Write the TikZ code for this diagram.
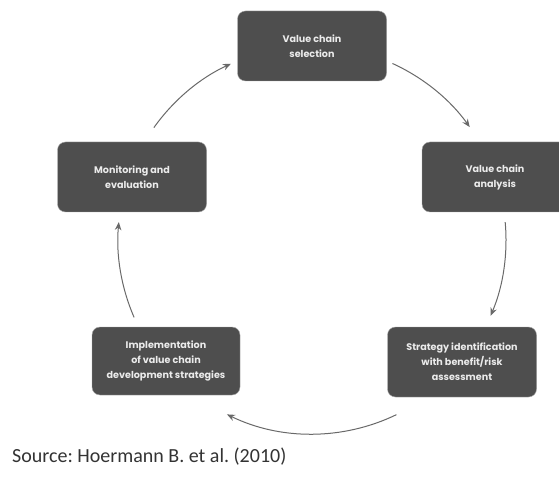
\documentclass[tikz,border=0pt]{standalone}
\usepackage{fontspec}
\setmainfont{Carlito}
\newfontfamily\stagefont{Poppins}
\usetikzlibrary{arrows.meta}
\usetikzlibrary{calc}
\definecolor{boxgray}{RGB}{78,78,78}
\definecolor{arrowgray}{RGB}{105,105,105}
\tikzset{
  stage/.style   = { rectangle, minimum width=149pt, minimum height=70pt,
                     rounded corners=8pt, fill=boxgray, draw=black!35,
                     text=white!92!black, align=center, inner sep=2pt,
                     font=\stagefont\fontsize{9.6}{15}\selectfont\bfseries },
  cycle/.style   = { ->, >={Stealth[length=8pt,width=6.5pt]}, draw=arrowgray,
                     line width=1pt },
}

\begin{document}
\begin{tikzpicture}[x=1pt,y=1pt]
  \clip (0,0) rectangle (559,477);
  \fill[white] (0,0) rectangle (559,477);

  \coordinate (c) at (312,237);

  \node (sel)  [stage] at (312,431) {Value chain\\selection};
  \node (ana)  [stage,minimum width=146pt] at (495,300) {Value chain\\analysis};
  \node (str)  [stage] at (462,115) {Strategy identification\\with benefit/risk\\assessment};
  \node (imp)  [stage,minimum width=148pt,minimum height=68pt] at (166,116)
               {Implementation\\of value chain\\development strategies};
  \node (mon)  [stage] at (132,300) {Monitoring and\\evaluation};

  \node (src)  [anchor=west,font=\frenchspacing\fontsize{20}{24}\selectfont,
                text=black!80,inner sep=0pt]
               at (12,20) {Source: Hoermann B. et al. (2010)};

  % arcs round the cycle
  \coordinate (s1) at ($(c)+(65.5:194)$);
  \coordinate (s2) at ($(c)+(5.3:194)$);
  \coordinate (s3) at ($(c)+(-64.2:194)$);
  \coordinate (s4) at ($(c)+(-156.5:194)$);
  \coordinate (s5) at ($(c)+(144.6:194)$);

  \draw [cycle] (s1) arc [start angle=65.5,  end angle=35.6,  radius=194];
  \draw [cycle] (s2) arc [start angle=5.3,   end angle=-23,   radius=194];
  \draw [cycle] (s3) arc [start angle=-64.2, end angle=-116,  radius=194];
  \draw [cycle] (s4) arc [start angle=-156.5,end angle=-185.3,radius=194];
  \draw [cycle] (s5) arc [start angle=144.6, end angle=114.7, radius=194];

\end{tikzpicture}
\end{document}
